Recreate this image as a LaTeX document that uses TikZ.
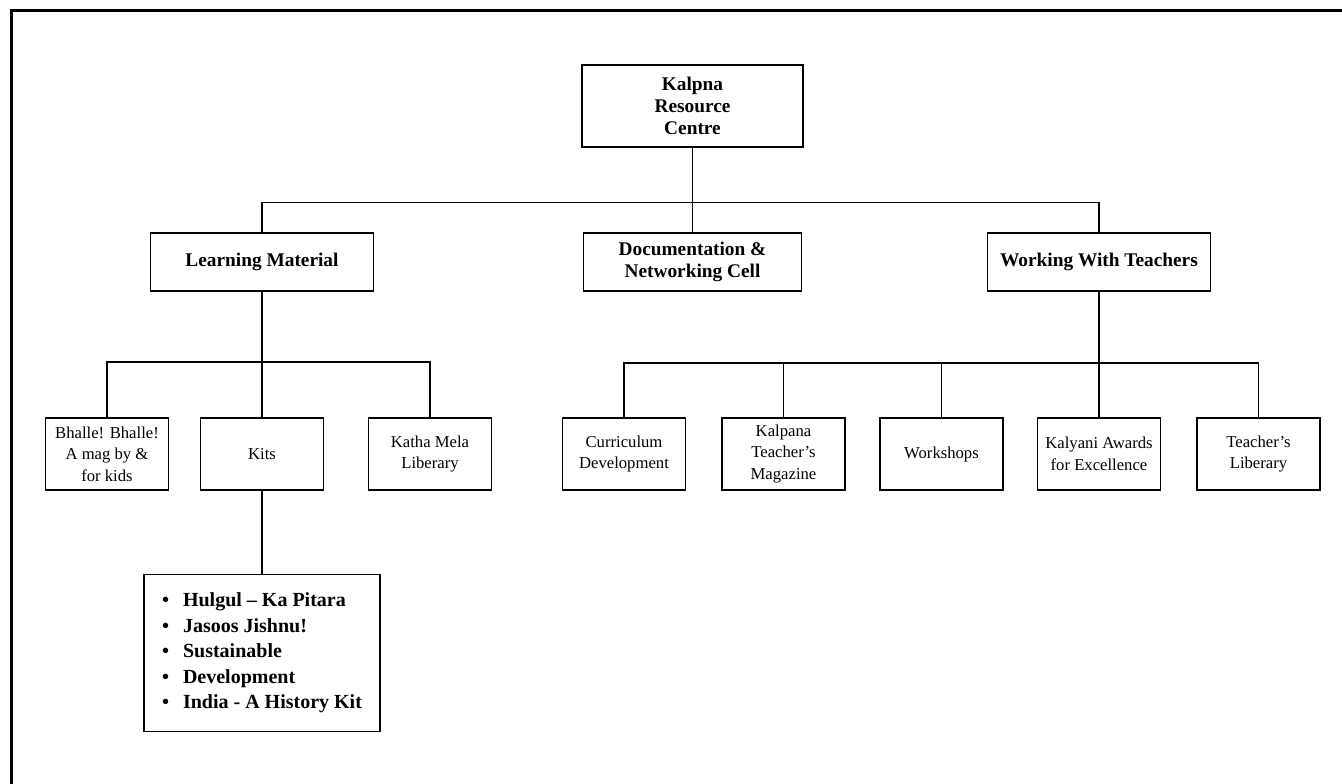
\documentclass[tikz,border=0pt]{standalone}
\usepackage{fontspec}
\setmainfont{Liberation Serif}
\begin{document}
\begin{tikzpicture}[x=0.75pt,y=-0.75pt,
  box/.style={draw, line width=1pt, align=center, inner sep=2pt},
  head/.style={box, minimum height=43.5pt, font=\fontsize{14.5}{16.5}\selectfont\bfseries},
  leaf/.style={box, minimum width=92.25pt, minimum height=54pt, font=\fontsize{12.5}{16.2}\selectfont},
  link/.style={line width=1pt}]
\useasboundingbox (0,0) rectangle (1342,783);
% page frame (left and top edges)
\draw[line width=2.25pt] (11.5,800) -- (11.5,10.3) -- (1360,10.3);

% top level
\node[head, minimum width=165.75pt, minimum height=61.5pt] (root) at (692.5,106) {Kalpna\\Resource\\Centre};

% second level
\node[head, minimum width=167.25pt] (lm)  at (262,262)   {Learning Material};
\node[head, minimum width=163.5pt]  (doc) at (692.5,262) {Documentation \&\\Networking Cell};
\node[head, minimum width=167.25pt] (wwt) at (1099,262)  {Working With Teachers};

% learning material branch
\node[leaf] (bhalle) at (107,454) {Bhalle! Bhalle!\\A mag by \&\\for kids};
\node[leaf] (kits)   at (262,454) {Kits};
\node[leaf] (katha)  at (430,454) {Katha Mela\\Liberary};

% working with teachers branch
\node[leaf] (curr) at (624,454)    {Curriculum\\Development};
\node[leaf] (kmag) at (783.5,454)  {Kalpana\\Teacher’s\\Magazine};
\node[leaf] (work) at (941.5,454)  {Workshops};
\node[leaf] (kaly) at (1099,454)   {Kalyani Awards\\for Excellence};
\node[leaf] (tlib) at (1258.5,454) {Teacher’s\\Liberary};

% kits list
\node[box, align=left, minimum width=177pt, minimum height=117.75pt,
      font=\fontsize{15}{19.2}\selectfont\bfseries] (list) at (262,653)
  {\textbullet\hspace{0.7em}Hulgul – Ka Pitara\\
   \textbullet\hspace{0.7em}Jasoos Jishnu!\\
   \textbullet\hspace{0.7em}Sustainable\\
   \textbullet\hspace{0.7em}Development\\
   \textbullet\hspace{0.7em}India - A History Kit};

% bus junctions
\coordinate (busT) at (692.5,202.5);
\coordinate (busL) at (262,362);
\coordinate (busR) at (1099,363);

% connectors
\draw[link] (root.south) -- (doc.north);
\draw[link] (lm.north) |- (busT) -| (wwt.north);

\draw[link] (lm.south) -- (kits.north);
\draw[link] (bhalle.north) |- (busL) -| (katha.north);
\draw[link] (kits.south) -- (list.north);

\draw[link] (wwt.south) -- (kaly.north);
\draw[link] (curr.north) |- (busR) -| (tlib.north);
\draw[link] (kmag.north) -- (kmag.north |- busR);
\draw[link] (work.north) -- (work.north |- busR);
\end{tikzpicture}
\end{document}
